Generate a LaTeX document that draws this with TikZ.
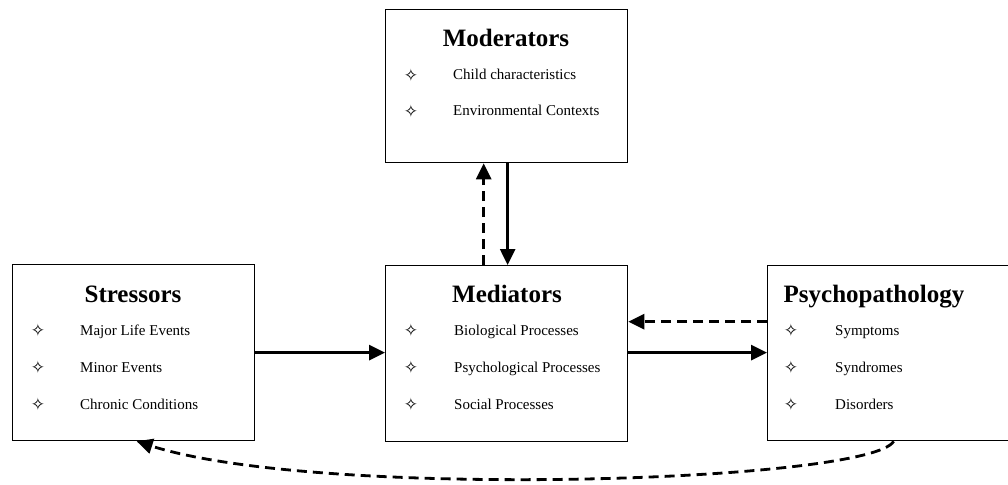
\documentclass[tikz,border=0pt]{standalone}
\usepackage{fontspec}
\setmainfont{Liberation Serif}
\newfontfamily\symfont{DejaVu Sans}
\usetikzlibrary{arrows.meta}

\tikzset{
  panel/.style={draw=black, line width=1.3pt, fill=white, rectangle,
    inner sep=0pt, anchor=north west},
  heading/.style={anchor=base, inner sep=0pt,
    font=\fontsize{25}{28}\selectfont\bfseries},
  item/.style={anchor=base west, inner sep=0pt,
    font=\fontsize{15}{18}\selectfont},
  bullet/.style={anchor=center, inner sep=0pt,
    font=\symfont\fontsize{17}{19}\selectfont},
  link/.style={line width=2.8pt,
    -{Triangle[length=16pt,width=15pt]}},
  feedback/.style={link, dash pattern=on 10pt off 6pt}
}

\begin{document}
\begin{tikzpicture}[x=1pt, y=-1pt]
  \useasboundingbox (0,0) rectangle (1008,484);
  \clip (0,0) rectangle (1008,484);

  % the four panels
  \node[panel, minimum width=242pt, minimum height=153pt] (mod) at (385,9) {};
  \node[panel, minimum width=242pt, minimum height=176pt] (str) at (12,264) {};
  \node[panel, minimum width=242pt, minimum height=176pt] (med) at (385,265) {};
  \node[panel, minimum width=242pt, minimum height=175pt] (psy) at (767,265) {};

  % Moderators
  \node[heading] (modT) at (506,47) {Moderators};
  \node[bullet] (modB1) at (411,75) {✧};
  \node[item] (modI1) at (453,80) {Child characteristics};
  \node[bullet] (modB2) at (411,111) {✧};
  \node[item] (modI2) at (453,116) {Environmental Contexts};

  % Stressors
  \node[heading] (strT) at (133,302) {Stressors};
  \node[bullet] (strB1) at (38,330) {✧};
  \node[item] (strI1) at (80,335) {Major Life Events};
  \node[bullet] (strB2) at (38,367) {✧};
  \node[item] (strI2) at (80,372) {Minor Events};
  \node[bullet] (strB3) at (38,404) {✧};
  \node[item] (strI3) at (80,409) {Chronic Conditions};

  % Mediators
  \node[heading] (medT) at (507,302) {Mediators};
  \node[bullet] (medB1) at (411,330) {✧};
  \node[item] (medI1) at (454,335) {Biological Processes};
  \node[bullet] (medB2) at (411,367) {✧};
  \node[item] (medI2) at (454,372) {Psychological Processes};
  \node[bullet] (medB3) at (411,404) {✧};
  \node[item] (medI3) at (454,409) {Social Processes};

  % Psychopathology
  \node[heading] (psyT) at (874,302) {Psychopathology};
  \node[bullet] (psyB1) at (791,330) {✧};
  \node[item] (psyI1) at (835,335) {Symptoms};
  \node[bullet] (psyB2) at (791,367) {✧};
  \node[item] (psyI2) at (835,372) {Syndromes};
  \node[bullet] (psyB3) at (791,404) {✧};
  \node[item] (psyI3) at (835,409) {Disorders};

  % connectors
  \draw[link] (str.east) -- (med.west |- str.east);
  \draw[link] (med.east |- str.east) -- (psy.west |- str.east);
  \draw[feedback] ([yshift=31pt]psy.west |- str.east) -- ([yshift=31pt]med.east |- str.east);
  \draw[feedback] ([xshift=-23pt]med.north) -- ([xshift=-23pt]mod.south);
  \draw[link] ([xshift=1pt]mod.south) -- ([xshift=1pt]med.north);
  \draw[feedback] ([xshift=5pt]psy.south)
    .. controls (870,482) and (320,500) .. ([xshift=3pt]str.south);
\end{tikzpicture}
\end{document}
